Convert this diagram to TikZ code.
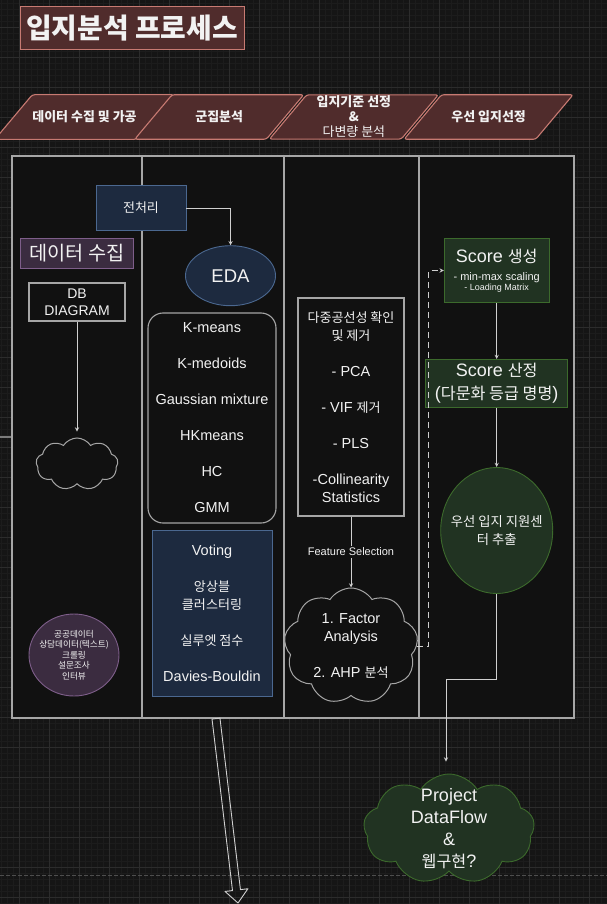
\documentclass[tikz,border=0pt]{standalone}
\usepackage{fontspec}
\setmainfont{Liberation Sans}
\newfontfamily\kr{Noto Sans CJK KR}[Scale=0.9]
\usetikzlibrary{shapes.geometric, shapes.symbols, calc}

\definecolor{canvas}{HTML}{151515}
\definecolor{gridfine}{HTML}{1C1C1C}
\definecolor{gridbold}{HTML}{2C2C2C}
\definecolor{pageline}{HTML}{4E4E4E}
\definecolor{lanefill}{HTML}{111111}
\definecolor{laneline}{HTML}{A6A6A6}
\definecolor{stubgray}{HTML}{7A7A7A}
\definecolor{wiregray}{HTML}{D0D0D0}
\definecolor{textwhite}{HTML}{F2F2F2}
\definecolor{redfill}{HTML}{502C2C}
\definecolor{redline}{HTML}{C77A72}
\definecolor{navyfill}{HTML}{1D2A3F}
\definecolor{navyline}{HTML}{4B6890}
\definecolor{purplefill}{HTML}{3B2C40}
\definecolor{purpleline}{HTML}{7E5E8A}
\definecolor{greenfill}{HTML}{213322}
\definecolor{greenline}{HTML}{3C6A2C}

\begin{document}
\begin{tikzpicture}[
    x=1pt, y=-1pt,
    >=stealth,
    every node/.style={text=textwhite},
    lane/.style={draw=laneline, fill=lanefill, line width=1.2pt, minimum height=562},
    banner/.style={trapezium, trapezium left angle=50, trapezium right angle=130, trapezium stretches body,
        draw=redline, fill=redfill, line width=1.1pt, rounded corners=2.5pt, minimum width=169, minimum height=44,
        inner xsep=0pt, inner ysep=16.2pt, font=\kr\bfseries\fontsize{14.4}{15}\selectfont, align=center},
    outline/.style={draw=laneline, line width=1.1pt, inner sep=0pt, align=center},
    navybox/.style={draw=navyline, fill=navyfill, line width=0.9pt, inner sep=0pt, align=center},
    purplebox/.style={draw=purpleline, fill=purplefill, line width=0.9pt, inner sep=0pt, align=center},
    greenbox/.style={draw=greenline, fill=greenfill, line width=0.9pt, inner sep=0pt, align=center},
    puff/.style={cloud, cloud puffs=9, cloud puff arc=115, aspect=1.5, draw=laneline, fill=lanefill, line width=1pt},
    wire/.style={draw=wiregray, line width=0.9pt},
    body/.style={font=\fontsize{14.5}{18}\selectfont}
]
    % CANVAS AND GRID
    \useasboundingbox (0, 0) rectangle (607, 904);
    \fill[canvas] (0, 0) rectangle (607, 904);
    \draw[gridfine, line width=0.5pt] \foreach \gx in {1.7, 7.7, ..., 607} {(\gx, 0) -- (\gx, 904)};
    \draw[gridfine, line width=0.5pt] \foreach \gy in {3.3, 9.3, ..., 904} {(0, \gy) -- (607, \gy)};
    \draw[gridbold, line width=0.8pt] \foreach \gx in {19.7, 49.7, ..., 607} {(\gx, 0) -- (\gx, 904)};
    \draw[gridbold, line width=0.8pt] \foreach \gy in {27.3, 57.3, ..., 904} {(0, \gy) -- (607, \gy)};
    \draw[pageline, line width=0.8pt, dash pattern=on 4pt off 2pt] (0, 875) -- (607, 875);

    % TITLE AND STAGES
    \node (title) at (132, 28.5) [draw=redline, fill=redfill, line width=1pt, minimum width=224, minimum height=43,
        font=\kr\bfseries\fontsize{31}{34}\selectfont] {입지분석 프로세스};
    \node (stage_1) at (84.5, 117) [banner] {데이터 수집 및 가공};
    \node (stage_2) at (219.2, 117) [banner] {군집분석};
    \node (stage_3) at (353.9, 117) [banner, inner ysep=1.2pt] {입지기준 선정\\\&\\{\mdseries 다변량 분석}};
    \node (stage_4) at (488.6, 117) [banner] {우선 입지선정};

    % LANES
    \node (lane_1) at (77, 437) [lane, minimum width=130] {};
    \node (lane_2) at (213, 437) [lane, minimum width=142] {};
    \node (lane_3) at (351.5, 437) [lane, minimum width=135] {};
    \node (lane_4) at (496.5, 437) [lane, minimum width=155] {};
    \coordinate (lane_in) at (0, 437);
    \draw[stubgray, line width=1.6pt] (lane_in) -- (lane_1.west);

    % DATA COLLECTION
    \node (prep) at (141, 208) [navybox, minimum width=90, minimum height=45, font=\kr\fontsize{14.4}{17}\selectfont] {전처리};
    \node (collect) at (77, 253) [purplebox, minimum width=113, minimum height=30, font=\kr\fontsize{21.9}{24}\selectfont] {데이터 수집};
    \node (db) at (77, 302) [outline, minimum width=96, minimum height=38, font=\fontsize{14}{17.4}\selectfont] {DB\\DIAGRAM};
    \node (db_cloud) at (77, 464) [puff, minimum width=82, minimum height=52] {};
    \node (sources) at (74, 655) [purplebox, ellipse, minimum width=90, minimum height=82,
        label={[align=center, font=\kr\fontsize{9.6}{10.6}\selectfont]center:{공공데이터\\상담데이터(텍스트)\\크롤링\\설문조사\\인터뷰}}] {};

    % CLUSTERING
    \node (eda) at (230.5, 275.7) [navybox, ellipse, minimum width=90, minimum height=60, font=\fontsize{18.5}{22}\selectfont] {EDA};
    \node (algos) at (212, 418) [outline, body, rounded corners=15pt, minimum width=128, minimum height=210]
        {K-means\\[18pt]K-medoids\\[18pt]Gaussian mixture\\[18pt]HKmeans\\[18pt]HC\\[18pt]GMM};
    \node (ensemble) at (212, 613) [navybox, body, minimum width=120, minimum height=166]
        {Voting\\[18pt]{\kr 앙상블}\\{\kr 클러스터링}\\[18pt]{\kr 실루엣 점수}\\[18pt]Davies-Bouldin};

    % CRITERIA AND MULTIVARIATE ANALYSIS
    \node (multi) at (351, 407) [outline, body, minimum width=106, minimum height=218]
        {{\kr 다중공선성 확인}\\{\kr 및 제거}\\[18pt]- PCA\\[18pt]- VIF {\kr 제거}\\[18pt]- PLS\\[18pt]-Collinearity\\Statistics};
    \node (factor) at (351, 646) [puff, minimum width=134, minimum height=116,
        label={[align=center, body]center:{1. Factor\\Analysis\\[18pt]2. AHP {\kr 분석}}}] {};

    % PRIORITY SITE SELECTION
    \node (score_gen) at (496.7, 270.5) [greenbox, minimum width=105, minimum height=64, font=\fontsize{11}{18}\selectfont]
        {{\fontsize{18}{18}\selectfont Score {\kr 생성}}\\- min-max scaling\\[-8.5pt]{\fontsize{9}{9.5}\selectfont - Loading Matrix}};
    \node (score_calc) at (496.7, 383.5) [greenbox, minimum width=142, minimum height=48, font=\fontsize{18}{23}\selectfont]
        {Score {\kr 산정}\\({\kr 다문화 등급 명명})};
    \node (pick) at (496.7, 530.5) [greenbox, ellipse, minimum width=112, minimum height=126,
        label={[align=center, font=\kr\fontsize{14.8}{17.6}\selectfont]center:{우선 입지 지원센\\터 추출}}] {};
    \node (dataflow) at (449, 829) [puff, greenbox, minimum width=171, minimum height=110,
        label={[align=center, font=\fontsize{18}{22}\selectfont]center:{Project\\DataFlow\\\&\\{\kr 웹구현}?}}] {};

    % CONNECTIONS
    \draw[wire, ->] (prep) -| (eda);
    \draw[wire, ->] (db) -- ([yshift=6pt]db_cloud.north);
    \draw[wire, ->] (multi.south) -- node[fill=lanefill, inner sep=1.5pt, font=\fontsize{11}{13}\selectfont] {Feature Selection} (factor.north);
    \draw[wire, dash pattern=on 6pt off 4pt, ->] (factor.east) -| ([xshift=-15pt]score_gen.west) -- (score_gen.west);
    \draw[wire, ->] (score_gen) -- (score_calc);
    \draw[wire, ->] (score_calc) -- (pick);
    \draw[wire, ->] (pick.south) -- ++(0, 85) -| ([xshift=-3pt, yshift=12pt]dataflow.north);

    % HOLLOW ARROW OUT OF THE CLUSTERING LANE
    \coordinate (drop_start) at ($(lane_2.south) + (3, 0)$);
    \coordinate (drop_tip) at (238, 903);
    \coordinate (drop_head) at ($(drop_tip)!13pt!(drop_start)$);
    \draw[wire, line join=round] ($(drop_start)!4pt!90:(drop_tip)$) -- ($(drop_head)!4pt!90:(drop_tip)$)
        -- ($(drop_head)!11.5pt!90:(drop_tip)$) -- (drop_tip) -- ($(drop_head)!11.5pt!-90:(drop_tip)$)
        -- ($(drop_head)!4pt!-90:(drop_tip)$) -- ($(drop_start)!4pt!-90:(drop_tip)$) -- cycle;
\end{tikzpicture}
\end{document}
